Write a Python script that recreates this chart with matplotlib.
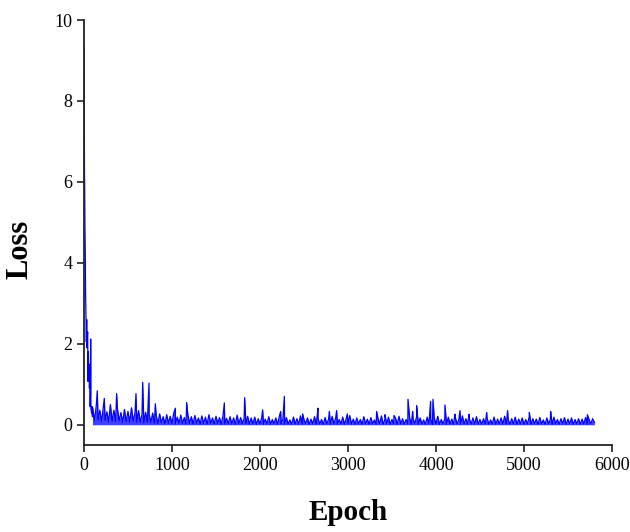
import numpy as np
import matplotlib
matplotlib.use("Agg")
import matplotlib.pyplot as plt

# ---- data ----
init_epochs = [0, 3, 6, 8, 11, 15, 18, 21, 23, 27, 31, 35, 38, 42, 46, 50, 54, 58,
               62, 66, 70, 74, 76, 79, 83, 87, 92, 96]
init_loss = [9.33, 7.5, 6.2, 5.85, 4.9, 4.25, 3.3, 2.9, 2.7, 2.05, 2.6, 1.9, 2.2, 2.29,
             1.07, 1.8, 1.25, 1.5, 0.9, 1.3, 0.45, 0.8, 2.12, 0.4, 0.35, 0.28, 0.45, 0.2]

base_start, base_end = 100, 5800
base_loss = [
    0.42, 0.10, 0.48, 0.12, 0.36, 0.08, 0.44, 0.11, 0.32, 0.07, 0.50, 0.09, 0.36, 0.08,
    0.40, 0.10, 0.30, 0.06, 0.38, 0.08, 0.33, 0.06, 0.42, 0.09, 0.30, 0.06, 0.35, 0.07,
    0.26, 0.05, 0.31, 0.06, 0.27, 0.05, 0.29,
    0.04, 0.24, 0.03, 0.27, 0.05, 0.20, 0.02, 0.25, 0.04, 0.21, 0.03, 0.29, 0.02, 0.19,
    0.04, 0.24, 0.03, 0.18, 0.02, 0.26, 0.03, 0.20, 0.02, 0.23, 0.04, 0.17, 0.02, 0.22,
    0.03, 0.19, 0.02, 0.25, 0.03, 0.17, 0.02, 0.21, 0.03, 0.18, 0.01, 0.23, 0.02, 0.16,
    0.03, 0.20, 0.02, 0.17, 0.01, 0.24, 0.02, 0.18, 0.03, 0.16, 0.02, 0.21, 0.01, 0.17,
    0.02, 0.19, 0.01, 0.15,
    0.02, 0.18, 0.01, 0.14, 0.02, 0.20, 0.01, 0.13, 0.03, 0.17, 0.01, 0.21, 0.02, 0.14, 0.01, 0.18, 0.02, 0.12, 0.01, 0.19,
    0.02, 0.15, 0.01, 0.22, 0.02, 0.13, 0.03, 0.17, 0.01, 0.14, 0.02, 0.20, 0.01, 0.15, 0.02, 0.13, 0.01, 0.18, 0.02, 0.14,
    0.01, 0.21, 0.02, 0.17, 0.01, 0.13, 0.02, 0.19, 0.01, 0.15, 0.03, 0.23, 0.02, 0.14, 0.01, 0.17, 0.02, 0.13, 0.01, 0.20,
    0.02, 0.14, 0.01, 0.18, 0.02, 0.12, 0.01, 0.17, 0.02, 0.22, 0.01, 0.14, 0.02, 0.19, 0.01, 0.13, 0.02, 0.17, 0.01, 0.21,
    0.02, 0.15, 0.01, 0.13, 0.02, 0.18, 0.01, 0.14, 0.03, 0.20, 0.01, 0.17, 0.02, 0.12, 0.01, 0.19, 0.02, 0.14, 0.01, 0.17,
    0.02, 0.21, 0.01, 0.13, 0.02, 0.15, 0.01, 0.19, 0.02, 0.14, 0.01, 0.18, 0.02, 0.13, 0.01, 0.22, 0.02, 0.15, 0.01, 0.14,
    0.02, 0.17, 0.01, 0.20, 0.02, 0.13, 0.01, 0.15, 0.02, 0.18, 0.01, 0.12, 0.02, 0.19, 0.01, 0.14, 0.02, 0.17, 0.01, 0.21,
    0.02, 0.13, 0.01, 0.15, 0.02, 0.19, 0.01, 0.14, 0.02, 0.17, 0.01, 0.13, 0.02, 0.20, 0.01, 0.15, 0.02, 0.14, 0.01, 0.18,
    0.02, 0.12, 0.01, 0.17, 0.02, 0.14, 0.01, 0.19, 0.02, 0.13, 0.01, 0.15, 0.02, 0.18, 0.01, 0.14, 0.02, 0.17, 0.01, 0.13,
    0.02, 0.15, 0.01, 0.14, 0.02, 0.18, 0.01, 0.13, 0.02, 0.15, 0.06,
]

spike_epochs = [151, 231, 371, 591, 667, 739, 811, 1038, 1167, 1595, 1826, 2030, 2235,
                2277, 2485, 2659, 2788, 2871, 2992, 3326, 3420, 3523, 3682, 3735, 3780,
                3939, 3966, 4102, 4216, 4273, 4375, 4576, 4814, 5061, 5303, 5720]
spike_loss = [0.84, 0.65, 0.77, 0.77, 1.05, 1.03, 0.52, 0.41, 0.55, 0.54, 0.67, 0.37,
              0.33, 0.70, 0.27, 0.41, 0.33, 0.35, 0.27, 0.33, 0.25, 0.23, 0.63, 0.33,
              0.47, 0.58, 0.63, 0.49, 0.26, 0.35, 0.26, 0.30, 0.35, 0.30, 0.33, 0.25]

x_ticks = [0, 1000, 2000, 3000, 4000, 5000, 6000]
y_ticks = [0, 2, 4, 6, 8, 10]

# ---- assemble series ----
base_epochs = np.linspace(base_start, base_end, len(base_loss))
ep = np.concatenate([init_epochs, base_epochs, spike_epochs])
ls = np.concatenate([init_loss, base_loss, spike_loss])
order = np.argsort(ep, kind="stable")
ep, ls = ep[order], ls[order]

plt.rcParams["font.family"] = ["Liberation Serif", "DejaVu Serif"]

fig = plt.figure(figsize=(6.3, 5.32), dpi=100)
ax = fig.add_axes([0.1333, 0.1635, 0.8381, 0.7989])
# dense oscillation renders as a filled band under the trace
ax.fill_between(ep, 0, ls, where=ep >= base_start, color="#0000FF", alpha=0.75,
                lw=0, interpolate=True)
ax.plot(ep, ls, color="#0000FF", lw=0.9)

ax.set_xlim(0, 6000)
ax.set_ylim(-0.5, 10)
ax.set_xticks(x_ticks)
ax.set_yticks(y_ticks)
for s in ["top", "right"]:
    ax.spines[s].set_visible(False)
for s in ["left", "bottom"]:
    ax.spines[s].set_linewidth(1.3)
    ax.spines[s].set_color("#222222")
ax.tick_params(direction="out", length=5, width=1.2, labelsize=13, color="#222222")
ax.set_xlabel("Epoch", fontsize=21, fontweight="bold", labelpad=18)
ax.set_ylabel("Loss", fontsize=22, fontweight="bold")
ax.yaxis.set_label_coords(-0.094, 0.46)

fig.savefig("out.png", dpi=100)
